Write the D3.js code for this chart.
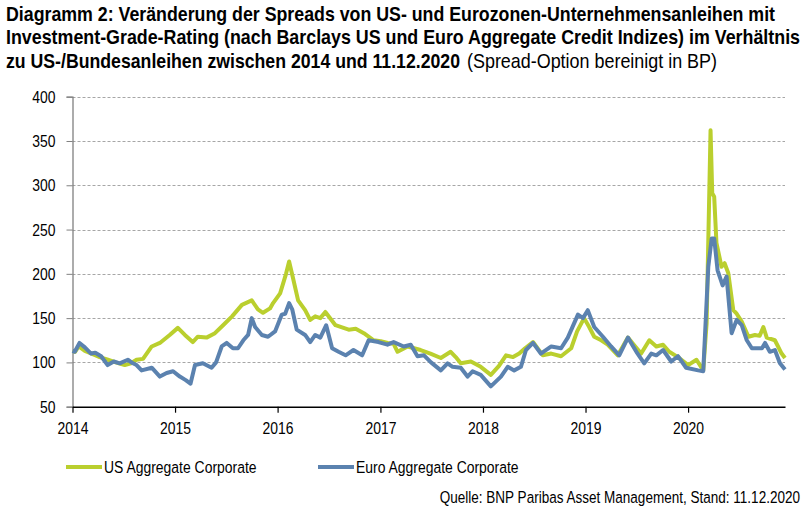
<!DOCTYPE html>
<html>
<head>
<meta charset="utf-8">
<script src="https://cdnjs.cloudflare.com/ajax/libs/d3/7.8.5/d3.min.js"></script>
<style>
  body { margin: 0; background: #fff; }
  svg text { font-family: "Liberation Sans", Arial, sans-serif; }
</style>
</head>
<body>
<div id="chart"></div>
<script>
// ############## DATA ##############
var usDates = ["2014-01-01","2014-01-10","2014-01-23","2014-02-14","2014-03-10","2014-04-08","2014-05-07","2014-06-04","2014-07-06","2014-07-28","2014-08-17","2014-09-09","2014-10-10","2014-11-08","2014-12-13","2015-01-11","2015-02-05","2015-03-05","2015-03-23","2015-04-23","2015-05-23","2015-06-21","2015-07-23","2015-08-27","2015-10-01","2015-10-23","2015-11-10","2015-12-05","2015-12-16","2016-01-10","2016-01-31","2016-02-11","2016-02-25","2016-03-14","2016-04-08","2016-04-26","2016-05-14","2016-06-01","2016-06-19","2016-07-25","2016-09-10","2016-10-05","2016-11-03","2016-12-08","2017-01-02","2017-01-27","2017-02-17","2017-03-03","2017-04-08","2017-05-24","2017-06-28","2017-08-04","2017-09-08","2017-09-26","2017-10-14","2017-11-19","2017-12-24","2018-01-29","2018-02-27","2018-03-24","2018-04-18","2018-05-10","2018-05-31","2018-06-28","2018-08-02","2018-09-01","2018-10-06","2018-11-11","2018-12-02","2018-12-27","2019-01-14","2019-02-01","2019-02-26","2019-03-21","2019-04-26","2019-06-01","2019-06-27","2019-07-18","2019-08-16","2019-09-10","2019-10-04","2019-10-26","2019-11-26","2020-01-01","2020-01-31","2020-02-24","2020-03-07","2020-03-21","2020-03-27","2020-04-03","2020-04-11","2020-04-29","2020-05-10","2020-05-23","2020-06-10","2020-06-22","2020-07-10","2020-08-03","2020-08-26","2020-09-12","2020-09-25","2020-10-07","2020-11-05","2020-11-29","2020-12-11"];
var usValues = [113,112,118,113,110,106,103,100,97,99,103,104,118,122,131,139,131,123,129,128,133,142,152,165,170,160,156,161,167,178,200,214,195,170,159,148,152,150,157,142,137,138,133,125,124,122,121,112,118,114,110,105,112,106,99,101,95,86,96,108,106,110,116,123,108,110,107,116,135,150,140,129,125,120,108,128,118,110,125,118,120,112,106,97,103,91,144,362,291,287,235,208,212,201,159,155,146,129,131,130,140,128,125,110,105];

var euroDates = ["2014-01-01","2014-01-09","2014-01-26","2014-02-14","2014-03-08","2014-03-23","2014-04-13","2014-05-06","2014-05-28","2014-06-18","2014-07-17","2014-08-04","2014-08-17","2014-09-04","2014-10-10","2014-11-08","2014-12-02","2014-12-25","2015-01-18","2015-02-08","2015-02-25","2015-03-13","2015-04-10","2015-05-11","2015-05-27","2015-06-16","2015-07-04","2015-07-26","2015-08-13","2015-09-01","2015-09-18","2015-10-01","2015-10-13","2015-11-06","2015-11-28","2015-12-23","2016-01-16","2016-01-28","2016-02-11","2016-02-22","2016-03-09","2016-04-08","2016-04-26","2016-05-14","2016-06-01","2016-06-22","2016-07-13","2016-08-05","2016-08-30","2016-09-27","2016-10-28","2016-11-20","2016-12-25","2017-01-26","2017-02-17","2017-03-25","2017-04-19","2017-05-13","2017-06-05","2017-06-30","2017-08-04","2017-08-28","2017-09-15","2017-10-14","2017-11-07","2017-11-25","2017-12-24","2018-01-29","2018-03-06","2018-03-30","2018-04-22","2018-05-16","2018-06-03","2018-06-28","2018-07-26","2018-09-01","2018-10-06","2018-10-30","2018-12-05","2018-12-23","2019-01-09","2019-02-01","2019-03-04","2019-04-02","2019-05-01","2019-06-01","2019-07-01","2019-07-29","2019-08-23","2019-09-10","2019-10-04","2019-11-02","2019-11-26","2019-12-25","2020-02-06","2020-02-24","2020-03-13","2020-03-25","2020-04-03","2020-04-15","2020-05-03","2020-05-17","2020-06-04","2020-06-22","2020-07-10","2020-07-28","2020-08-15","2020-09-20","2020-10-01","2020-10-18","2020-11-05","2020-11-23","2020-12-11"];
var euroValues = [113,112,122,117,110,111,107,97,101,99,103,99,97,91,94,84,88,90,84,80,76,97,99,94,100,118,122,116,116,125,131,150,140,131,129,135,154,155,167,160,137,131,123,131,128,142,116,112,108,114,108,125,123,120,123,118,120,107,108,100,91,99,95,94,84,90,86,73,84,95,91,95,114,122,110,118,116,128,154,150,159,140,129,118,108,128,112,99,110,108,114,101,107,94,91,90,208,240,240,204,187,197,133,148,142,125,116,116,122,112,114,99,92];

var yTicks = [50, 100, 150, 200, 250, 300, 350, 400];
var xTickYears = [2014, 2015, 2016, 2017, 2018, 2019, 2020];

var seriesNames = ["US Aggregate Corporate", "Euro Aggregate Corporate"];
var titleBold = [
  "Diagramm 2: Veränderung der Spreads von US- und Eurozonen-Unternehmensanleihen mit",
  "Investment-Grade-Rating (nach Barclays US und Euro Aggregate Credit Indizes) im Verhältnis",
  "zu US-/Bundesanleihen zwischen 2014 und 11.12.2020"
];
var titleRegular = "(Spread-Option bereinigt in BP)";
var sourceText = "Quelle: BNP Paribas Asset Management, Stand: 11.12.2020";

// ############## SETTINGS ##############
var attrs = {
  width: 810,
  height: 514,
  plotLeft: 72.5,
  plotRight: 785,
  plotTop: 96.7,
  plotBottom: 406.7,
  usColor: "#BACF2E",
  euroColor: "#5B82AF",
  gridColor: "#A6A6A6",
  narrow: 0.82,          // Arial Narrow look from Liberation Sans
  axisFontSize: 17,
  legendFontSize: 16.5,
  titleFontSize: 20
};

var parse = d3.timeParse("%Y-%m-%d");
var usData = usDates.map(function(d, i) { return { date: parse(d), value: usValues[i] }; });
var euroData = euroDates.map(function(d, i) { return { date: parse(d), value: euroValues[i] }; });

// squeeze text horizontally around its parent's origin
function condense(sel) {
  sel.each(function() {
    var t = d3.select(this);
    var x0 = +t.attr("x") || 0;
    t.attr("x", x0 / attrs.narrow)
     .attr("transform", "scale(" + attrs.narrow + ",1)");
  });
}

var svg = d3.select("#chart").append("svg")
  .attr("width", attrs.width)
  .attr("height", attrs.height);

// scales
var x = d3.scaleTime()
  .domain([parse("2014-01-01"), parse("2020-12-11")])
  .range([attrs.plotLeft, attrs.plotRight]);

var y = d3.scaleLinear()
  .domain([50, 400])
  .range([attrs.plotBottom, attrs.plotTop]);

// ############## TITLE ##############
// line widths measured from the reference
var titleLines = [
  { text: titleBold[0], x: 6, y: 21, len: 769, weight: "bold" },
  { text: titleBold[1], x: 6, y: 44.5, len: 794, weight: "bold" },
  { text: titleBold[2], x: 6, y: 68, len: 454, weight: "bold" },
  { text: titleRegular, x: 467, y: 68, len: 250, weight: "normal" }
];
svg.append("g").attr("class", "title")
  .selectAll("text")
  .data(titleLines)
  .join("text")
  .attr("x", function(d) { return d.x; })
  .attr("y", function(d) { return d.y; })
  .attr("font-size", attrs.titleFontSize)
  .attr("font-weight", function(d) { return d.weight; })
  .attr("fill", "#000")
  .text(function(d) { return d.text; })
  .call(condense)
  .attr("textLength", function(d) { return d.len / attrs.narrow; })
  .attr("lengthAdjust", "spacingAndGlyphs");

// ############## GRID ##############
svg.append("g")
  .attr("class", "grid")
  .selectAll("line")
  .data(yTicks.filter(function(d) { return d > 50; }))
  .join("line")
  .attr("x1", attrs.plotLeft)
  .attr("x2", attrs.plotRight)
  .attr("y1", function(d) { return Math.round(y(d)) + 0.5; })
  .attr("y2", function(d) { return Math.round(y(d)) + 0.5; })
  .attr("stroke", attrs.gridColor)
  .attr("stroke-width", 1)
  .attr("stroke-dasharray", "3,2");

// ############## AXES ##############
var yAxis = svg.append("g")
  .attr("transform", "translate(" + attrs.plotLeft + ",0)")
  .call(d3.axisLeft(y).tickValues(yTicks).tickSize(6).tickPadding(11));
yAxis.select(".domain").attr("stroke", "#808080").attr("stroke-width", 1.3);
yAxis.selectAll(".tick line").attr("stroke", "#808080");
yAxis.selectAll(".tick text")
  .attr("font-size", attrs.axisFontSize)
  .attr("font-family", null)
  .attr("fill", "#000")
  .call(condense);

var xAxis = svg.append("g")
  .attr("transform", "translate(0," + attrs.plotBottom + ")")
  .call(d3.axisBottom(x)
    .tickValues(xTickYears.map(function(yr) { return new Date(yr, 0, 1); }))
    .tickFormat(d3.timeFormat("%Y"))
    .tickSizeInner(6)
    .tickSizeOuter(0)
    .tickPadding(9));
xAxis.select(".domain").attr("stroke", "#000").attr("stroke-width", 1.5);
xAxis.selectAll(".tick line").attr("stroke", "#000").attr("stroke-width", 1.2);
xAxis.selectAll(".tick text")
  .attr("font-size", attrs.axisFontSize)
  .attr("font-family", null)
  .attr("fill", "#000")
  .call(condense);

// ############## LINES ##############
var line = d3.line()
  .x(function(d) { return x(d.date); })
  .y(function(d) { return y(d.value); });

svg.append("path")
  .datum(usData)
  .attr("fill", "none")
  .attr("stroke", attrs.usColor)
  .attr("stroke-width", 4)
  .attr("stroke-linejoin", "round")
  .attr("d", line);

svg.append("path")
  .datum(euroData)
  .attr("fill", "none")
  .attr("stroke", attrs.euroColor)
  .attr("stroke-width", 4)
  .attr("stroke-linejoin", "round")
  .attr("d", line);

// ############## LEGEND ##############
var legendItems = [
  { label: seriesNames[0], color: attrs.usColor, x: 66 },
  { label: seriesNames[1], color: attrs.euroColor, x: 318 }
];
var legendItem = svg.append("g").attr("class", "legend")
  .selectAll("g")
  .data(legendItems)
  .join("g")
  .attr("transform", function(d) { return "translate(" + d.x + ",467)"; });
legendItem.append("line")
  .attr("x1", 0)
  .attr("x2", 36)
  .attr("stroke", function(d) { return d.color; })
  .attr("stroke-width", 4);
legendItem.append("text")
  .attr("x", 38)
  .attr("dy", "0.35em")
  .attr("font-size", 17)
  .text(function(d) { return d.label; })
  .call(condense);

// ############## SOURCE ##############
svg.append("g")
  .attr("transform", "translate(800,503)")
  .append("text")
  .attr("text-anchor", "end")
  .attr("font-size", attrs.legendFontSize)
  .text(sourceText)
  .call(condense);
</script>
</body>
</html>
